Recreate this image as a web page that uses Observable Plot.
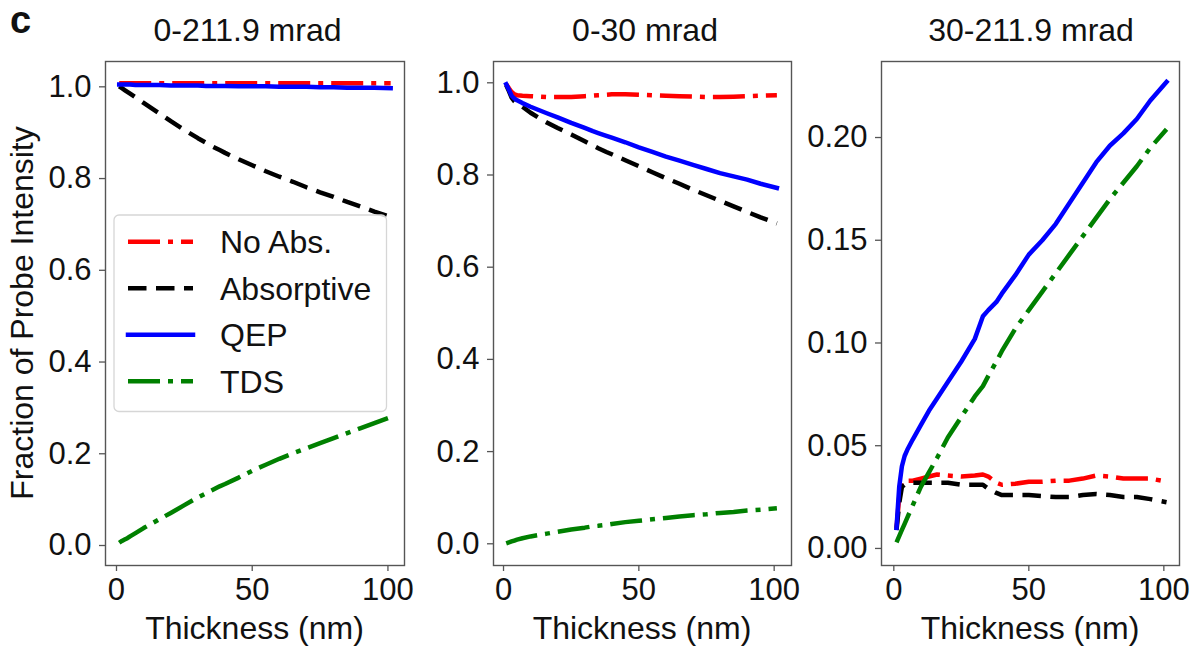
<!DOCTYPE html>
<html>
<head>
<meta charset="utf-8">
<script src="https://cdn.jsdelivr.net/npm/d3@7"></script>
<script src="https://cdn.jsdelivr.net/npm/@observablehq/plot@0.6"></script>
<style>
html, body { margin: 0; padding: 0; background: #fff; }
#chart { position: relative; width: 1194px; height: 646px; overflow: hidden; background: #fff; }
#chart svg { position: absolute; top: 0; }
</style>
</head>
<body>
<div id="chart"></div>
<script>
// ---------- data ----------
const thickness = [1, 2, 3, 4, 5, 7, 10, 13, 16, 20, 25, 30, 33, 35, 38, 40, 45, 50, 55, 60, 65, 70, 75, 80, 85, 90, 95, 101];

const seriesNames = ["No Abs.", "Absorptive", "QEP", "TDS"];
const panelTitles = ["0-211.9 mrad", "0-30 mrad", "30-211.9 mrad"];
const xLabel = "Thickness (nm)";
const yLabel = "Fraction of Probe Intensity";
const panelLetter = "c";

const xTicks = [0, 50, 100];
const yTicksWide = [0, 0.2, 0.4, 0.6, 0.8, 1.0];
const yTicksOuter = [0, 0.05, 0.10, 0.15, 0.20];

// panel 1: 0-211.9 mrad
const p1NoAbs = [1.008, 1.008, 1.008, 1.008, 1.008, 1.008, 1.008, 1.008, 1.008, 1.008, 1.008, 1.008, 1.008, 1.008, 1.008, 1.008, 1.008, 1.008, 1.008, 1.008, 1.008, 1.008, 1.008, 1.008, 1.008, 1.008, 1.008, 1.008];
const p1Absorptive = [1.001, 0.997, 0.993, 0.989, 0.985, 0.977, 0.965, 0.953, 0.941, 0.925, 0.906, 0.888, 0.878, 0.871, 0.862, 0.856, 0.842, 0.829, 0.816, 0.804, 0.793, 0.781, 0.770, 0.760, 0.749, 0.739, 0.728, 0.716];
const p1QEP = [1.005, 1.005, 1.005, 1.005, 1.005, 1.004, 1.004, 1.004, 1.004, 1.003, 1.003, 1.003, 1.002, 1.002, 1.002, 1.002, 1.001, 1.001, 1.001, 1.000, 1.000, 1.000, 0.999, 0.999, 0.998, 0.998, 0.998, 0.997];
const p1TDS = [0.006, 0.010, 0.013, 0.016, 0.020, 0.027, 0.038, 0.048, 0.058, 0.071, 0.088, 0.105, 0.114, 0.120, 0.129, 0.134, 0.148, 0.163, 0.176, 0.189, 0.201, 0.212, 0.223, 0.234, 0.245, 0.256, 0.267, 0.280];

// panel 2: 0-30 mrad
const p2NoAbs = [0.997, 0.988, 0.980, 0.975, 0.973, 0.972, 0.971, 0.970, 0.969, 0.969, 0.969, 0.971, 0.972, 0.973, 0.974, 0.975, 0.975, 0.974, 0.973, 0.972, 0.971, 0.970, 0.969, 0.969, 0.970, 0.971, 0.972, 0.973];
const p2Absorptive = [0.995, 0.982, 0.968, 0.960, 0.955, 0.948, 0.935, 0.924, 0.914, 0.902, 0.888, 0.873, 0.864, 0.858, 0.850, 0.845, 0.832, 0.819, 0.806, 0.793, 0.781, 0.768, 0.756, 0.744, 0.732, 0.720, 0.708, 0.695];
const p2QEP = [0.997, 0.985, 0.972, 0.966, 0.962, 0.956, 0.948, 0.941, 0.934, 0.925, 0.913, 0.902, 0.895, 0.891, 0.885, 0.881, 0.871, 0.860, 0.850, 0.840, 0.831, 0.822, 0.813, 0.804, 0.797, 0.790, 0.781, 0.772];
const p2TDS = [0.001, 0.003, 0.005, 0.007, 0.009, 0.012, 0.016, 0.019, 0.022, 0.026, 0.031, 0.035, 0.038, 0.039, 0.041, 0.043, 0.047, 0.050, 0.053, 0.056, 0.059, 0.062, 0.064, 0.067, 0.069, 0.072, 0.074, 0.077];

// panel 3: 30-211.9 mrad
const p3NoAbs = [0.010, 0.025, 0.032, 0.033, 0.033, 0.033, 0.034, 0.035, 0.036, 0.0355, 0.035, 0.0355, 0.036, 0.035, 0.032, 0.031, 0.0315, 0.0325, 0.0325, 0.033, 0.033, 0.034, 0.0355, 0.035, 0.034, 0.034, 0.034, 0.0325];
const p3Absorptive = [0.009, 0.022, 0.030, 0.031, 0.031, 0.032, 0.032, 0.032, 0.032, 0.032, 0.031, 0.031, 0.031, 0.029, 0.027, 0.026, 0.026, 0.026, 0.0255, 0.025, 0.025, 0.026, 0.0265, 0.026, 0.025, 0.025, 0.024, 0.0225];
const p3QEP = [0.010, 0.030, 0.040, 0.045, 0.048, 0.053, 0.060, 0.067, 0.073, 0.081, 0.091, 0.102, 0.113, 0.116, 0.120, 0.124, 0.133, 0.143, 0.150, 0.158, 0.168, 0.178, 0.188, 0.196, 0.202, 0.209, 0.218, 0.227];
const p3TDS = [0.003, 0.006, 0.009, 0.012, 0.015, 0.021, 0.030, 0.037, 0.044, 0.054, 0.064, 0.074, 0.079, 0.084, 0.091, 0.096, 0.107, 0.116, 0.125, 0.134, 0.143, 0.152, 0.161, 0.170, 0.178, 0.186, 0.195, 0.204];

// ---------- styles ----------
const FONT = '"Liberation Sans", Arial, Helvetica, sans-serif';
const LW = 4.5;
const seriesStyle = {
  "No Abs.":    {stroke: "#ff0000", dash: "32,8,5,8", cap: "butt"},
  "Absorptive": {stroke: "#000000", dash: "18.5,9.5", cap: "butt"},
  "QEP":        {stroke: "#0000ff", dash: null, cap: "square"},
  "TDS":        {stroke: "#008000", dash: "32,8,5,8", cap: "butt"}
};

const chart = document.getElementById("chart");
const W = 1194, H = 646, TOP = 61, BOTTOM = 565;

function makePanel(cfg) {
  const marks = [
    Plot.frame({stroke: "#555", strokeWidth: 1.4}),
    Plot.axisX(xTicks, {
      tickSize: 6, tickPadding: 6, stroke: "#555", strokeWidth: 1.3,
      fill: "#111", fontSize: 31, fontFamily: FONT,
      tickFormat: d => String(d), label: null
    }),
    Plot.axisY(cfg.yTicks, {
      tickSize: 6, tickPadding: 8, stroke: "#555", strokeWidth: 1.3,
      fill: "#111", fontSize: 31, fontFamily: FONT,
      tickFormat: d3.format(cfg.yFormat), label: null
    })
  ];
  seriesNames.forEach((name, k) => {
    const vals = cfg.values[k];
    const rows = thickness.map((t, i) => ({t, v: vals[i]}));
    const st = seriesStyle[name];
    marks.push(Plot.line(rows, {
      x: "t", y: "v",
      stroke: st.stroke, strokeWidth: LW,
      strokeDasharray: st.dash || undefined,
      strokeLinecap: st.cap, strokeLinejoin: "round"
    }));
  });
  const svg = Plot.plot({
    width: cfg.width, height: H,
    marginTop: TOP, marginBottom: H - BOTTOM,
    marginLeft: cfg.marginLeft, marginRight: cfg.marginRight,
    style: {fontFamily: FONT, fontSize: "31px", color: "#111", background: "transparent", overflow: "visible"},
    x: {domain: cfg.xDomain},
    y: {domain: cfg.yDomain},
    marks
  });
  svg.style.left = cfg.left + "px";
  chart.appendChild(svg);
}

makePanel({
  left: 0, width: 420, marginLeft: 105, marginRight: 16,
  xDomain: [-4.05, 106.1], yDomain: [-0.0436, 1.0552],
  yTicks: yTicksWide, yFormat: ".1f",
  values: [p1NoAbs, p1Absorptive, p1QEP, p1TDS]
});
makePanel({
  left: 420, width: 390, marginLeft: 73, marginRight: 19,
  xDomain: [-3.7, 106.4], yDomain: [-0.0471, 1.0462],
  yTicks: yTicksWide, yFormat: ".1f",
  values: [p2NoAbs, p2Absorptive, p2QEP, p2TDS]
});
makePanel({
  left: 810, width: 384, marginLeft: 71, marginRight: 15,
  xDomain: [-4.56, 105.8], yDomain: [-0.0083, 0.237],
  yTicks: yTicksOuter, yFormat: ".2f",
  values: [p3NoAbs, p3Absorptive, p3QEP, p3TDS]
});

// ---------- overlay: titles, labels, legend ----------
const ov = d3.select(chart).append("svg")
  .attr("width", W).attr("height", H)
  .style("left", "0px")
  .attr("font-family", FONT);

ov.append("text").attr("x", 10).attr("y", 33)
  .attr("font-size", 38).attr("font-weight", "bold").attr("fill", "#111")
  .text(panelLetter);

const titleX = [247.5, 645, 1031];
panelTitles.forEach((t, i) => {
  ov.append("text").attr("x", titleX[i]).attr("y", 41)
    .attr("text-anchor", "middle").attr("font-size", 32).attr("fill", "#111").text(t);
});

const frameCenters = [254.5, 642, 1030];
frameCenters.forEach(cx => {
  ov.append("text").attr("x", cx).attr("y", 639)
    .attr("text-anchor", "middle").attr("font-size", 32).attr("fill", "#111").text(xLabel);
});

ov.append("text")
  .attr("transform", "translate(33,313) rotate(-90)")
  .attr("text-anchor", "middle").attr("font-size", 32).attr("fill", "#111")
  .text(yLabel);

// legend
const lg = ov.append("g");
lg.append("rect").attr("x", 114).attr("y", 215).attr("width", 272.5).attr("height", 196.5)
  .attr("rx", 5).attr("fill", "#fff").attr("fill-opacity", 0.8)
  .attr("stroke", "#d6d6d6").attr("stroke-width", 1.3);
const rowY = [241.7, 288.3, 334.8, 381.2];
seriesNames.forEach((name, i) => {
  const st = seriesStyle[name];
  const ln = lg.append("line")
    .attr("x1", 128).attr("x2", 193).attr("y1", rowY[i]).attr("y2", rowY[i])
    .attr("stroke", st.stroke).attr("stroke-width", LW)
    .attr("stroke-linecap", st.cap);
  if (st.dash) ln.attr("stroke-dasharray", st.dash);
  lg.append("text").attr("x", 220).attr("y", rowY[i] + 11.5)
    .attr("font-size", 32).attr("fill", "#111").text(name);
});
</script>
</body>
</html>
